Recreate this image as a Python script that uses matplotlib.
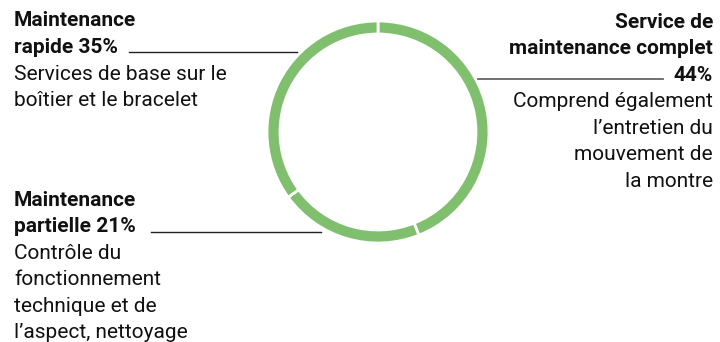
import matplotlib.pyplot as plt

# segment shares, clockwise from 12 o'clock
segments = ["Service de maintenance complet", "Maintenance partielle", "Maintenance rapide"]
shares = [44, 21, 35]

label_rapide = [("Maintenance", True), ("rapide 35%", True),
                ("Services de base sur le", False), ("boîtier et le bracelet", False)]
label_complet = [("Service de", True), ("maintenance complet", True), ("44%", True),
                 ("Comprend également", False), ("l’entretien du", False),
                 ("mouvement de", False), ("la montre", False)]
label_partielle = [("Maintenance", True), ("partielle 21%", True), ("Contrôle du", False),
                   ("fonctionnement", False), ("technique et de", False),
                   ("l’aspect, nettoyage", False)]

W, H = 720, 342
green = "#80bf6e"
plt.rcParams['font.family'] = ['Roboto', 'DejaVu Sans']

fig = plt.figure(figsize=(W / 100, H / 100), dpi=100)
ax = fig.add_axes([0, 0, 1, 1])

ax.pie(shares, startangle=90, counterclock=False, colors=[green] * 3,
       center=(378, H - 132), radius=111,
       wedgeprops=dict(width=13, edgecolor="white", linewidth=2))
ax.set_xlim(0, W)
ax.set_ylim(0, H)
ax.set_aspect('equal')
ax.axis('off')


def block(lines, x, y0, ha, step=26.6):
    for i, (txt, bold) in enumerate(lines):
        ax.text(x, H - (y0 + i * step), txt, ha=ha, va='center', fontsize=15,
                fontweight='bold' if bold else 'normal', color="#111111")


block(label_rapide, 14, 21, 'left')
block(label_complet, 713, 22, 'right')
block(label_partielle, 14, 200, 'left')

# leader lines from the labels to the ring
ax.plot([129, 297], [H - 52, H - 52], color="#222222", lw=1)
ax.plot([478, 663], [H - 79, H - 79], color="#666666", lw=1.3)
ax.plot([151, 321], [H - 232, H - 232], color="#222222", lw=1)

fig.savefig("out.png", dpi=100)
